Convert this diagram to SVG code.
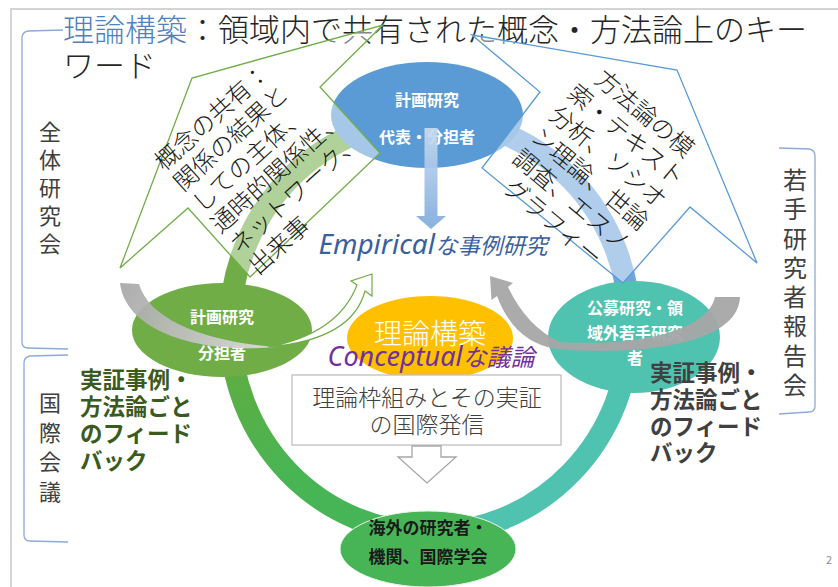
<svg xmlns="http://www.w3.org/2000/svg" width="838" height="587" viewBox="0 0 838 587">
<defs>
<style>
text{font-family:"Noto Sans CJK JP","Noto Sans",sans-serif;}
.frame{fill:none;stroke:#d4d4d4;stroke-width:2}
.brk{fill:none;stroke:#8eaadb;stroke-width:1.3}
.side{font-size:22px;fill:#404040;text-anchor:middle}
.ring{fill:none;stroke-width:22}
.lbl{fill:#fff;font-weight:bold;font-size:16px;text-anchor:middle}
.co{fill:#fff;fill-opacity:0.45;stroke-width:1.3;stroke-linejoin:miter}
.cot{font-size:24px;fill:#1a1a1a;font-weight:300}
.fb{font-size:22.5px;font-weight:bold}
</style>
<linearGradient id="llg" gradientUnits="userSpaceOnUse" x1="230" y1="330" x2="430" y2="533">
<stop offset="0" stop-color="#63ab3e"/><stop offset="0.5" stop-color="#48b553"/><stop offset="1" stop-color="#44b55a"/>
</linearGradient>
<linearGradient id="bag" gradientUnits="userSpaceOnUse" x1="0" y1="128" x2="0" y2="230">
<stop offset="0" stop-color="#c9dbf1"/><stop offset="1" stop-color="#7ea9dd"/>
</linearGradient>
<linearGradient id="lga" gradientUnits="userSpaceOnUse" x1="120" y1="283" x2="275" y2="347">
<stop offset="0" stop-color="#a6a6a6"/><stop offset="1" stop-color="#dedede"/>
</linearGradient>
</defs>

<rect class="frame" x="11" y="9" width="840" height="600"/>

<g id="title">
<text x="63" y="41" font-size="31" fill="#262626" font-weight="300"><tspan fill="#4f81bd">理論構築</tspan>：領域内で共有された概念・方法論上のキー</text>
<text x="63" y="77" font-size="31" fill="#262626" font-weight="300">ワード</text>
</g>

<g id="brackets">
<path class="brk" d="M63,30 L28,31 Q22,32 22,38 L22,342 Q22,348 28,348 L68,349"/>
<path class="brk" d="M68,355 L30,356 Q24,357 24,363 L24,535 Q24,541 30,541 L68,542"/>
<path class="brk" d="M779,148 L809,149 Q815,150 815,156 L815,406 Q815,412 809,412 L779,414"/>
</g>
<g id="side-labels">
<text class="side" x="50 50 50 50 50" y="140 168 196 224 252">全体研究会</text>
<text class="side" x="50 50 50 50" y="411 441 470 500">国際会議</text>
<text class="side" style="font-size:24px" x="795 795 795 795 795 795 795 795" y="189 218 248 277 306 335 365 394">若手研究者報告会</text>
</g>

<g id="connectors">
<path class="ring" stroke="#70ad47" d="M430,119 A200,207 0 0 0 230,326"/>
<path class="ring" stroke="url(#llg)" d="M230,326 A200,207 0 0 0 430,533"/>
<path class="ring" stroke="#4fc3b0" d="M430,533 A200,207 0 0 0 630,326"/>
<path class="ring" stroke="#6fa5da" d="M630,326 A200,207 0 0 0 430,119"/>
</g>

<g id="node-top">
<ellipse cx="427" cy="115" rx="96" ry="53" fill="#5b9bd5"/>
</g>
<g id="node-left">
<ellipse cx="222" cy="330" rx="90" ry="47" fill="#70ad47"/>
<text class="lbl" x="222" y="323">計画研究</text>
<text class="lbl" x="222" y="359">分担者</text>
</g>
<g id="node-right">
<ellipse cx="634" cy="337" rx="86" ry="56" fill="#4fc3b0"/>
<text class="lbl" x="635" y="314">公募研究・領</text>
<text class="lbl" x="635" y="339">域外若手研究</text>
<text class="lbl" x="635" y="364">者</text>
</g>
<g id="node-theory">
<ellipse cx="430" cy="338" rx="83" ry="42" fill="#ffc000"/>
<text x="430" y="344" font-size="28" fill="#fff" text-anchor="middle" font-weight="300">理論構築</text>
</g>
<g id="node-bottom">
<ellipse cx="428" cy="549" rx="88" ry="38" fill="#47b556" stroke="#e8f5ea" stroke-width="1"/>
<text x="428" y="534" font-size="17" font-weight="bold" fill="#1a1a1a" text-anchor="middle">海外の研究者・</text>
<text x="428" y="563" font-size="17" font-weight="bold" fill="#1a1a1a" text-anchor="middle">機関、国際学会</text>
</g>

<g id="callout-left">
<polygon class="co" stroke="#70ad47" points="383,25 320,87 380,153 250,277 188,208 120,268 192,78"/>
<g transform="translate(164.2,171.8) rotate(-42)">
<text class="cot" x="0" y="0">概念の共有：</text>
<text class="cot" x="0" y="28">関係の結果と</text>
<text class="cot" x="0" y="56">しての主体、</text>
<text class="cot" x="0" y="84">通時的関係性、</text>
<text class="cot" x="0" y="112">ネットワーク、</text>
<text class="cot" x="0" y="140">出来事</text>
</g>
</g>
<g id="callout-right">
<polygon class="co" stroke="#5b9bd5" points="472,35 677,70 757,263 690,207 623,283 482,168 540,92"/>
<g transform="translate(639.1,120) rotate(40)" text-anchor="middle">
<text class="cot" x="0" y="0">方法論の模</text>
<text class="cot" x="0" y="28.4">索・テキスト</text>
<text class="cot" x="0" y="56.8">分析、ソシオ</text>
<text class="cot" x="0" y="85.2">ン理論、世論</text>
<text class="cot" x="0" y="113.6">調査、エスノ</text>
<text class="cot" x="0" y="142">グラフィー</text>
</g>
</g>

<g id="top-labels">
<text class="lbl" x="427" y="106">計画研究</text>
<text class="lbl" x="427" y="143">代表・分担者</text>
</g>

<g id="arrows">
<path d="M424.5,128 L437.5,128 L437.5,216 L446,216 L431,229 L416,216 L424.5,216 Z" fill="url(#bag)" fill-opacity="0.92"/>
<path d="M120,283 L139,284 C150,322 210,342 276,347 C205,354 126,334 120,283 Z" fill="url(#lga)" fill-opacity="0.92"/>
<path d="M268,347 Q338,334 357,285 L351,281 L372,274 L372,296 L365,291 Q352,340 268,347 Z" fill="#fff" stroke="#70ad47" stroke-width="1.2"/>
<path d="M490,276 L513,283 L508,287 Q527,327 560,342 C640,347 708,330 715,297 L740,297 C738,345 640,356 556,349 Q514,342 497,296 L491.5,300 Z" fill="#a6a6a6" fill-opacity="0.95"/>
</g>

<g id="empirical">
<text x="433" y="254" fill="#3a5f9e" font-style="italic" text-anchor="middle"><tspan font-family="Noto Sans" font-size="28">Empirical</tspan><tspan font-size="22.5">な事例研究</tspan></text>
</g>
<g id="conceptual">
<text x="431" y="366" fill="#7030a0" font-style="italic" text-anchor="middle"><tspan font-family="Noto Sans" font-size="27">Conceptual</tspan><tspan font-size="24">な議論</tspan></text>
</g>

<g id="box">
<rect x="292" y="375" width="269" height="70" fill="#fff" stroke="#bfbfbf" stroke-width="1.3"/>
<text x="427" y="406" font-size="23" fill="#404040" text-anchor="middle" font-weight="300">理論枠組みとその実証</text>
<text x="427" y="433" font-size="23" fill="#404040" text-anchor="middle" font-weight="300">の国際発信</text>
<polygon points="412,446 441,446 441,457 456,457 427,483 398,457 412,457" fill="#fff" stroke="#a6a6a6" stroke-width="1.3"/>
</g>

<g id="feedback-left" fill="#3b5a1e">
<text class="fb" x="80" y="388">実証事例・</text>
<text class="fb" x="80" y="415">方法論ごと</text>
<text class="fb" x="80" y="442">のフィード</text>
<text class="fb" x="80" y="469">バック</text>
</g>
<g id="feedback-right" fill="#404040">
<text class="fb" x="650" y="381">実証事例・</text>
<text class="fb" x="650" y="408">方法論ごと</text>
<text class="fb" x="650" y="435">のフィード</text>
<text class="fb" x="650" y="461">バック</text>
</g>

<text x="829" y="564" font-size="11" fill="#8c8c8c" font-family="Liberation Sans, sans-serif" text-anchor="middle">2</text>
</svg>
